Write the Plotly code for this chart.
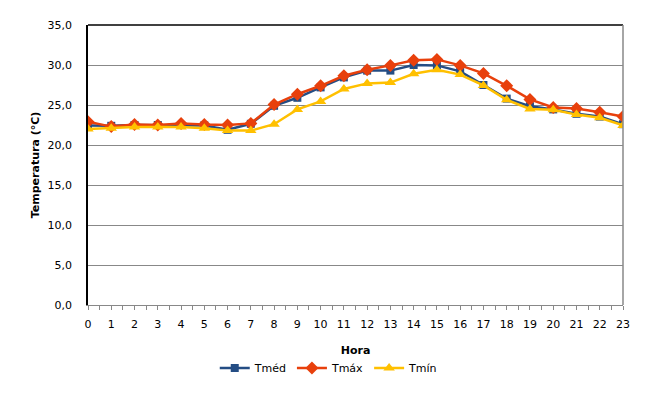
import plotly.graph_objects as go

# Hourly temperatures
hora = list(range(24))
t_med = [22.45, 22.4, 22.5, 22.5, 22.5, 22.45, 21.9, 22.65, 24.9, 25.9, 27.2, 28.45,
         29.3, 29.3, 30.0, 29.95, 29.2, 27.5, 25.8, 24.85, 24.45, 23.9, 23.55, 22.6]
t_max = [22.9, 22.3, 22.55, 22.5, 22.7, 22.55, 22.5, 22.7, 25.05, 26.35, 27.4, 28.65,
         29.4, 29.95, 30.6, 30.7, 29.95, 28.95, 27.4, 25.7, 24.7, 24.55, 24.1, 23.55]
t_min = [22.0, 22.1, 22.25, 22.25, 22.25, 22.1, 21.8, 21.8, 22.6, 24.45, 25.45, 27.0,
         27.7, 27.8, 28.9, 29.4, 28.8, 27.45, 25.65, 24.5, 24.4, 23.8, 23.4, 22.45]

font = "DejaVu Sans"

fig = go.Figure()

fig.add_trace(go.Scatter(x=hora, y=t_med, name="Tméd", mode="lines+markers",
                         line=dict(color="#244D84", width=2.5),
                         marker=dict(symbol="square", size=8, color="#244D84")))
fig.add_trace(go.Scatter(x=hora, y=t_max, name="Tmáx", mode="lines+markers",
                         line=dict(color="#E8400C", width=2.5),
                         marker=dict(symbol="diamond", size=10, color="#E8400C")))
fig.add_trace(go.Scatter(x=hora, y=t_min, name="Tmín", mode="lines+markers",
                         line=dict(color="#FFC000", width=2.5),
                         marker=dict(symbol="triangle-up", size=10, color="#FFC000")))

# page body has an 8px margin, so the figure is a bit smaller than the window
fig.update_layout(
    width=662, height=395,
    margin=dict(l=80, r=47, t=11, b=98),
    paper_bgcolor="white", plot_bgcolor="white",
    separators=",.",
    font=dict(family=font, size=11, color="black"),
    showlegend=True,
    legend=dict(orientation="h", x=0.45, xanchor="center", y=-0.225, yanchor="middle",
                font=dict(size=11), itemwidth=30, tracegroupgap=0),
    xaxis=dict(range=[0, 23], tickvals=hora, ticks="outside", ticklen=4,
               tickcolor="#888888", showgrid=False, zeroline=False,
               showline=True, linecolor="#888888", linewidth=1,
               ticklabelstandoff=5,
               minor=dict(dtick=0.5, tick0=0, ticks="outside", ticklen=4,
                          tickcolor="#888888"),
               title=dict(text="<b>Hora</b>", font=dict(size=11), standoff=16)),
    yaxis=dict(range=[0, 35], dtick=5, tickformat=".1f", showgrid=True,
               gridcolor="#888888", gridwidth=1, zeroline=False,
               showline=True, linecolor="black", linewidth=1.5, ticks="",
               ticklabelstandoff=12,
               title=dict(text="<b>Temperatura (°C)</b>", font=dict(size=11), standoff=6)),
)

# frame: black top edge, grey right edge
fig.add_shape(type="line", xref="x domain", yref="y domain", x0=0, x1=1, y0=1, y1=1,
              line=dict(color="black", width=1.5))
fig.add_shape(type="line", xref="x domain", yref="y domain", x0=1, x1=1, y0=0, y1=1,
              line=dict(color="#888888", width=1.5))

fig.write_html("out.html")
